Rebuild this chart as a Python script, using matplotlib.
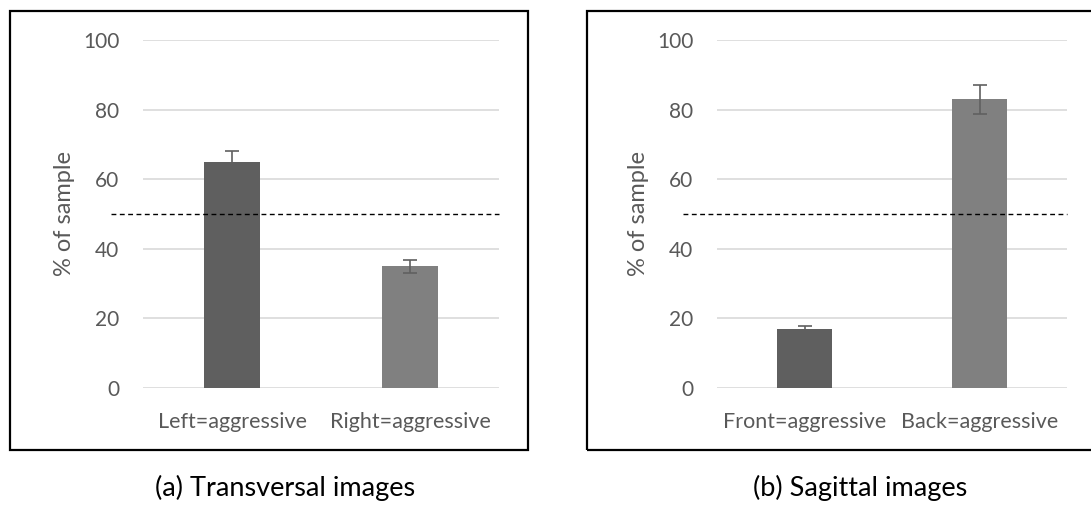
import matplotlib.pyplot as plt
from matplotlib.patches import Rectangle

plt.rcParams['font.family'] = ['Lato', 'DejaVu Sans']

# panel (a)
trans_labels = ['Left=aggressive', 'Right=aggressive']
trans_values = [65, 35]
trans_err = [3.2, 1.9]

# panel (b)
sag_labels = ['Front=aggressive', 'Back=aggressive']
sag_values = [17, 83]
sag_err = [0.9, 4.2]

yticks = [0, 20, 40, 60, 80, 100]
chance_level = 50

BAR_COLORS = ['#5f5f5f', '#808080']
TEXT_COLOR = '#595959'
GRID_COLOR = '#d9d9d9'

W, H = 1091, 508
fig = plt.figure(figsize=(W / 100, H / 100), dpi=100)


def draw_panel(rect, box, labels, values, errs, caption, cap_x, dash_start):
    # outer frame like the Excel chart area
    fig.patches.append(Rectangle((box[0] / W, 1 - box[3] / H),
                                 (box[2] - box[0]) / W, (box[3] - box[1]) / H,
                                 transform=fig.transFigure, fill=False,
                                 edgecolor='black', linewidth=1.6))
    ax = fig.add_axes(rect)
    x = range(len(values))
    ax.bar(x, values, width=0.315, color=BAR_COLORS, zorder=3)
    ax.errorbar(x, values, yerr=errs, fmt='none', ecolor='#606060',
                elinewidth=1.2, capsize=5, capthick=1.2, zorder=4)
    ax.set_xlim(-0.5, len(values) - 0.5)
    ax.set_ylim(0, 100)
    ax.set_yticks(yticks)
    ax.yaxis.grid(True, color=GRID_COLOR, linewidth=1.2, zorder=0)
    ax.set_axisbelow(True)
    for s in ax.spines.values():
        s.set_visible(False)
    ax.tick_params(length=0, labelsize=15, colors=TEXT_COLOR)
    ax.tick_params(axis='y', pad=17)
    ax.tick_params(axis='x', pad=17)
    ax.set_xticks(list(x))
    ax.set_xticklabels(labels, fontsize=15.5)
    ax.set_ylabel('% of sample', fontsize=17, color=TEXT_COLOR, labelpad=6)
    ax.plot([dash_start, len(values) - 0.5], [chance_level, chance_level],
            color='black', linestyle=(0, (3.5, 2.5)), linewidth=1.0,
            clip_on=False, zorder=5)
    fig.text(cap_x / W, 1 - 488 / H, caption, fontsize=19.5, ha='center',
             va='center', color='black')
    return ax


draw_panel([143 / W, 1 - 388 / H, 356 / W, 348 / H], (10, 11, 528, 450),
           trans_labels, trans_values, trans_err,
           '(a) Transversal images', 285, -0.68)
draw_panel([717 / W, 1 - 388 / H, 350 / W, 348 / H], (587, 11, 1095, 450),
           sag_labels, sag_values, sag_err,
           '(b) Sagittal images', 860, -0.697)

fig.savefig('out.png', dpi=100, facecolor='white')
